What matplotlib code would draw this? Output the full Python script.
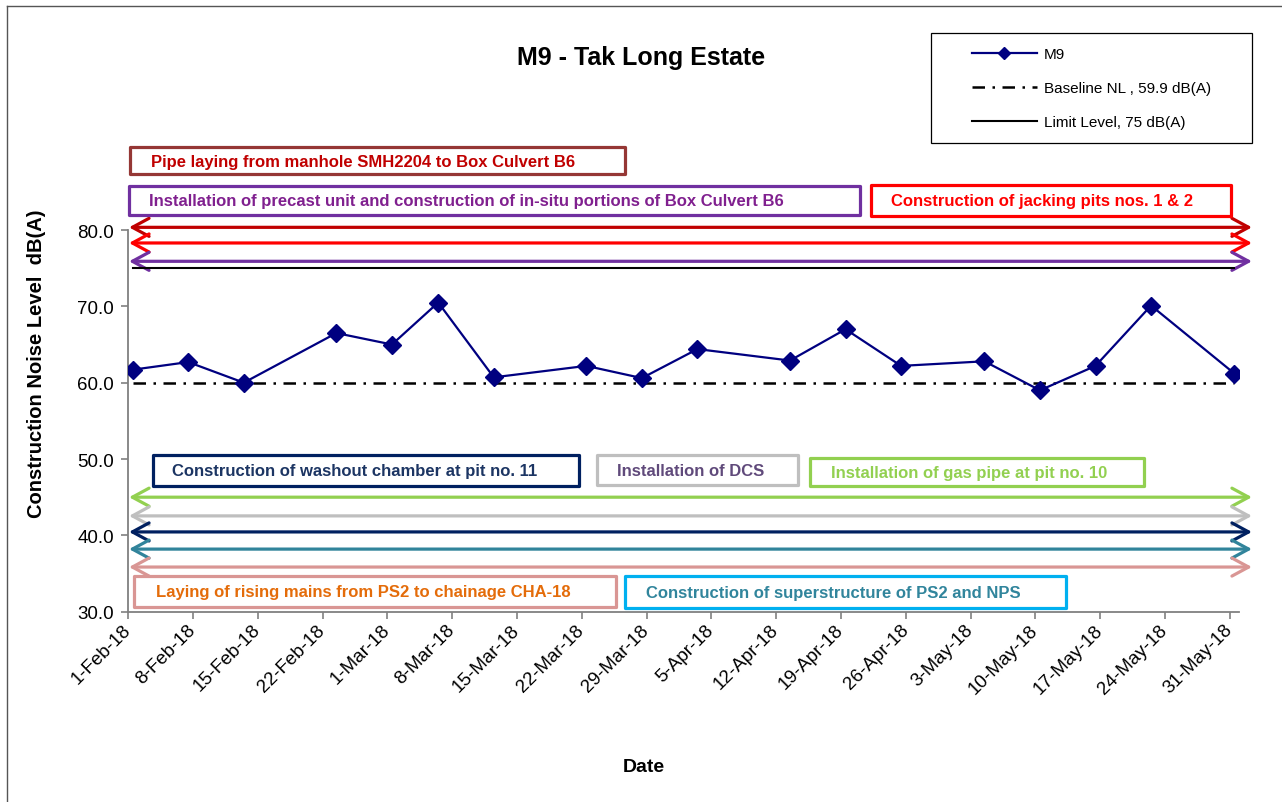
import matplotlib
matplotlib.use("Agg")
import matplotlib.pyplot as plt
import matplotlib.dates as mdates
from matplotlib.patches import Rectangle
from matplotlib.lines import Line2D
from matplotlib.ticker import FuncFormatter, FixedLocator
import numpy as np

plt.rcParams['font.family'] = ['Liberation Sans', 'DejaVu Sans']

# ---------------- data ----------------
dates = ['2018-02-01', '2018-02-07', '2018-02-13', '2018-02-23', '2018-03-01',
         '2018-03-06', '2018-03-12', '2018-03-22', '2018-03-28', '2018-04-03',
         '2018-04-13', '2018-04-19', '2018-04-25', '2018-05-04', '2018-05-10',
         '2018-05-16', '2018-05-22', '2018-05-31']
m9_values = [61.7, 62.7, 60.0, 66.5, 65.0, 70.5, 60.7, 62.2, 60.6, 64.4,
             62.9, 67.0, 62.2, 62.8, 59.0, 62.2, 70.1, 61.2]
baseline_level = 59.9
limit_level = 75.0
series_labels = ['M9', 'Baseline NL , 59.9 dB(A)', 'Limit Level, 75 dB(A)']

axis_start = '2018-02-01'
axis_end = '2018-06-01'
y_ticks = [30, 40, 50, 60, 70, 80]

# activity arrows (level in dB(A) where each duration arrow is drawn)
arrow_levels = [80.35, 78.3, 75.9, 45.0, 42.55, 40.45, 38.2, 35.85]
arrow_colors = ['#C00000', '#FF0000', '#7030A0', '#92D050', '#BFBFBF',
                '#002060', '#31849B', '#D99694']

activity_texts = [
    'Pipe laying from manhole SMH2204 to Box Culvert B6',
    'Installation of precast unit and construction of in-situ portions of Box Culvert B6',
    'Construction of jacking pits nos. 1 & 2',
    'Construction of washout chamber at pit no. 11',
    'Installation of DCS',
    'Installation of gas pipe at pit no. 10',
    'Laying of rising mains from PS2 to chainage CHA-18',
    'Construction of superstructure of PS2 and NPS',
]
activity_text_colors = ['#C00000', '#80208F', '#FF0000', '#1C3563', '#604A7B',
                        '#92D050', '#E46C0A', '#31859C']
activity_edge_colors = ['#953735', '#7030A0', '#FF0000', '#002060', '#BFBFBF',
                        '#92D050', '#D99694', '#00B0F0']

# ---------------- layout ----------------
W, H = 1282, 803
def fx(px):
    return px / W
def fy(py):
    return 1 - py / H

# box layout in pixels: x0, y0, x1, y1, text-x
box_layout = [
    (130, 148, 625, 175, 151),
    (129, 186.5, 860, 216, 149),
    (870.5, 186, 1231, 216.5, 891),
    (152.5, 455.5, 579, 486.5, 172),
    (597, 456, 798, 486, 617),
    (810, 459, 1144, 487, 831),
    (134, 577, 616, 608, 156),
    (625, 577, 1066, 608.5, 646),
]

fig = plt.figure(figsize=(W / 100, H / 100), dpi=100)
fig.patch.set_facecolor('white')

ax_l, ax_r, ax_b, ax_t = 128.1, 1239, 612.7, 231
ax = fig.add_axes([fx(ax_l), fy(ax_b), fx(ax_r) - fx(ax_l), fy(ax_t) - fy(ax_b)])
ax.set_facecolor('none')

x = mdates.datestr2num(dates) + 0.5   # values sit in the middle of each day
x0 = mdates.datestr2num(axis_start)
x1 = mdates.datestr2num(axis_end)

ax.plot(x, m9_values, color='#000080', lw=1.6, marker='D', ms=9.5,
        mfc='#000080', mec='#000080', label=series_labels[0], zorder=6)
ax.plot(x, [baseline_level] * len(x), color='black', lw=1.8,
        ls=(0, (5, 3, 1, 3)), label=series_labels[1], zorder=4)
ax.plot(x, [limit_level] * len(x), color='black', lw=1.5,
        label=series_labels[2], zorder=4)

# duration arrows spanning the reporting period
for lvl, col in zip(arrow_levels, arrow_colors):
    ax.annotate('', xy=(x0 + 121.4, lvl), xytext=(x0 + 0.1, lvl),
                xycoords='data', textcoords='data', annotation_clip=False,
                arrowprops=dict(arrowstyle='<->,head_length=1.2,head_width=0.65',
                                mutation_scale=10, color=col, lw=2.3,
                                shrinkA=0, shrinkB=0), zorder=3)

ax.set_xlim(x0, x1)
ax.set_ylim(30, 80)

xt = np.arange(x0, x0 + 120, 7)
ax.xaxis.set_major_locator(FixedLocator(xt))
def date_fmt(v, pos):
    d = mdates.num2date(v)
    return f"{d.day}-{d.strftime('%b-%y')}"
ax.xaxis.set_major_formatter(FuncFormatter(date_fmt))
ax.set_yticks(y_ticks)
ax.yaxis.set_major_formatter(FuncFormatter(lambda v, p: f"{v:.1f}"))

for s in ['top', 'right']:
    ax.spines[s].set_visible(False)
for s in ['left', 'bottom']:
    ax.spines[s].set_color('#808080')
    ax.spines[s].set_linewidth(1.3)

ax.tick_params(axis='both', direction='out', length=5, width=1.2,
               color='#808080', labelsize=13.5, labelcolor='black')
ax.tick_params(axis='y', pad=5)
ax.tick_params(axis='x', pad=6)
for lab in ax.get_xticklabels():
    lab.set_rotation(45)
    lab.set_ha('right')
    lab.set_va('center')
    lab.set_rotation_mode('anchor')

ax.set_ylabel('Construction Noise Level  dB(A)', fontsize=14.5, fontweight='bold')
ax.yaxis.label.set_va('center')
ax.yaxis.set_label_coords((37 - ax_l) / (ax_r - ax_l), (ax_b - 364) / (ax_b - ax_t))
ax.set_xlabel('Date', fontsize=14, fontweight='bold')
ax.xaxis.label.set_va('center')
ax.xaxis.set_label_coords((644 - ax_l) / (ax_r - ax_l), (ax_b - 768) / (ax_b - ax_t))

fig.text(fx(641), fy(58), 'M9 - Tak Long Estate', ha='center', va='center',
         fontsize=18, fontweight='bold')

# activity text boxes
for (bx0, by0, bx1, by1, tx), txt, tc, ec in zip(box_layout, activity_texts,
                                                 activity_text_colors, activity_edge_colors):
    rect = Rectangle((fx(bx0), fy(by1)), fx(bx1) - fx(bx0), fy(by0) - fy(by1),
                     transform=fig.transFigure, facecolor='white', edgecolor=ec,
                     lw=2.3, joinstyle='round', zorder=5)
    fig.add_artist(rect)
    fig.text(fx(tx), fy((by0 + by1) / 2 + 0.5), txt, ha='left', va='center',
             fontsize=12, fontweight='bold', color=tc, zorder=6)

# legend
leg = ax.legend(loc='center left', bbox_to_anchor=(fx(972), fy(89.3)),
                bbox_transform=fig.transFigure, frameon=False, fontsize=11,
                handlelength=4.25, handletextpad=0.45, labelspacing=1.3,
                borderpad=0, borderaxespad=0, markerscale=0.6)
fig.add_artist(Rectangle((fx(930.7), fy(144)), fx(1251.7) - fx(930.7), fy(34.3) - fy(144),
                         transform=fig.transFigure, facecolor='none',
                         edgecolor='black', lw=0.9))

# outer chart frame (left and top edges visible)
fig.add_artist(Line2D([fx(7), fx(7)], [fy(7), 0], transform=fig.transFigure,
                      color='#555555', lw=1.0))
fig.add_artist(Line2D([fx(7), 1], [fy(7), fy(7)], transform=fig.transFigure,
                      color='#555555', lw=1.0))

fig.savefig('out.png', dpi=100, facecolor='white')
